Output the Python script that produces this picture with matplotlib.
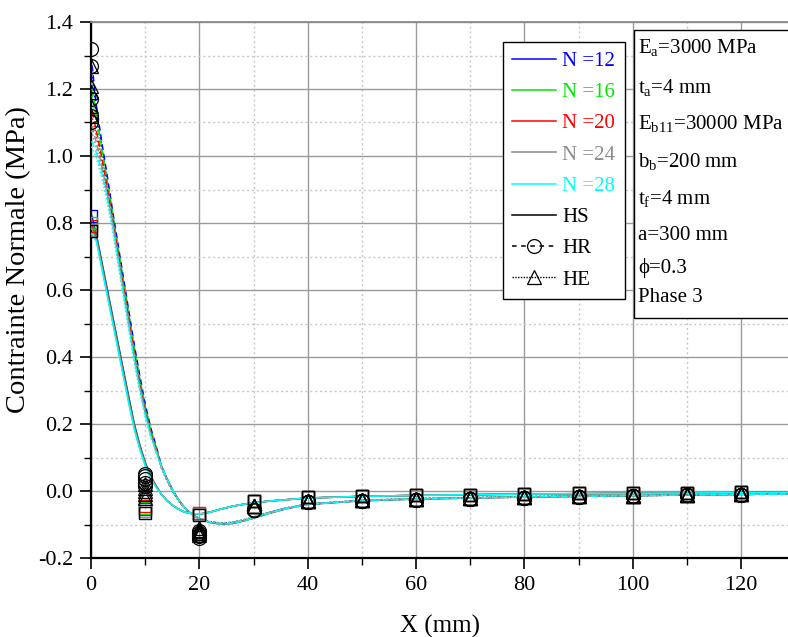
import numpy as np
import matplotlib.pyplot as plt
from matplotlib.lines import Line2D
from matplotlib.patches import Rectangle

plt.rcParams['font.family'] = ['Liberation Serif', 'DejaVu Serif']
plt.rcParams['mathtext.fontset'] = 'custom'
plt.rcParams['mathtext.rm'] = 'Liberation Serif'
plt.rcParams['mathtext.it'] = 'Liberation Serif:italic'

# number of terms in the series solution
N_values = [12, 16, 20, 24, 28]
colors = ['#0000FF', '#00E600', '#FF0000', '#8C8C8C', '#00FFFF']
square_edges = ['#0000FF', '#00E600', '#FF0000', '#8C8C8C', 'black']

# curves: steep part differs with N, the rest is shared
x_head = [0, 1, 2, 3, 4, 5, 6, 7, 8, 9, 10, 11, 12]
x_tail = [13, 14, 15, 16, 17, 18, 19, 20, 22, 24, 26, 28, 30, 33, 36, 40,
          50, 60, 70, 80, 90, 100, 110, 120, 130]

hs_head = {
    12: [0.830, 0.765, 0.684, 0.603, 0.522, 0.441, 0.360, 0.279, 0.200, 0.138, 0.086, 0.046, 0.016],
    16: [0.815, 0.759, 0.678, 0.597, 0.516, 0.435, 0.354, 0.273, 0.195, 0.134, 0.083, 0.044, 0.014],
    20: [0.800, 0.753, 0.672, 0.591, 0.510, 0.429, 0.348, 0.267, 0.190, 0.130, 0.080, 0.042, 0.013],
    24: [0.790, 0.749, 0.668, 0.587, 0.506, 0.425, 0.344, 0.263, 0.187, 0.128, 0.078, 0.041, 0.012],
    28: [0.770, 0.745, 0.664, 0.583, 0.502, 0.421, 0.340, 0.259, 0.184, 0.125, 0.076, 0.039, 0.011],
}
hs_tail = [-0.010, -0.028, -0.042, -0.053, -0.061, -0.066, -0.068, -0.069, -0.063, -0.054,
           -0.046, -0.040, -0.035, -0.030, -0.026, -0.021, -0.016, -0.013, -0.011, -0.009,
           -0.008, -0.007, -0.006, -0.005, -0.004]

hr_head = {
    12: [1.30, 1.15, 1.04, 0.940, 0.835, 0.735, 0.635, 0.535, 0.435, 0.345, 0.260, 0.190, 0.135],
    16: [1.22, 1.12, 1.02, 0.925, 0.825, 0.725, 0.625, 0.525, 0.425, 0.335, 0.252, 0.184, 0.131],
    20: [1.15, 1.075, 0.995, 0.905, 0.810, 0.710, 0.610, 0.510, 0.410, 0.320, 0.240, 0.175, 0.125],
    24: [1.10, 1.04, 0.970, 0.890, 0.800, 0.700, 0.600, 0.500, 0.400, 0.312, 0.234, 0.171, 0.122],
    28: [1.05, 1.01, 0.950, 0.875, 0.790, 0.690, 0.590, 0.490, 0.392, 0.305, 0.228, 0.167, 0.119],
}
hr_tail = [0.075, 0.038, 0.005, -0.022, -0.044, -0.061, -0.074, -0.083, -0.094, -0.099,
           -0.097, -0.090, -0.081, -0.066, -0.053, -0.040, -0.029, -0.024, -0.021, -0.018,
           -0.016, -0.014, -0.012, -0.010, -0.009]

he_head = {
    12: [1.27, 1.13, 1.025, 0.925, 0.825, 0.725, 0.625, 0.525, 0.425, 0.336, 0.252, 0.184, 0.130],
    16: [1.20, 1.10, 1.005, 0.910, 0.812, 0.713, 0.613, 0.513, 0.415, 0.327, 0.245, 0.178, 0.126],
    20: [1.13, 1.06, 0.980, 0.890, 0.797, 0.698, 0.598, 0.498, 0.400, 0.313, 0.234, 0.170, 0.120],
    24: [1.08, 1.025, 0.955, 0.875, 0.787, 0.688, 0.588, 0.488, 0.390, 0.305, 0.228, 0.166, 0.117],
    28: [1.03, 0.995, 0.935, 0.860, 0.777, 0.678, 0.578, 0.478, 0.382, 0.298, 0.222, 0.162, 0.114],
}
he_tail = [0.070, 0.033, 0.001, -0.025, -0.046, -0.062, -0.074, -0.082, -0.092, -0.096,
           -0.094, -0.087, -0.078, -0.064, -0.051, -0.039, -0.028, -0.023, -0.020, -0.017,
           -0.015, -0.013, -0.011, -0.010, -0.009]

# discrete points every 10 mm
x_pts = [0, 10, 20, 30, 40, 50, 60, 70, 80, 90, 100, 110, 120]
hs_pts_head = {12: [0.82, -0.055, -0.070], 16: [0.80, -0.050, -0.068], 20: [0.79, -0.045, -0.066],
               24: [0.78, -0.060, -0.070], 28: [0.775, -0.065, -0.072]}
hs_pts_tail = [-0.030, -0.019, -0.016, -0.013, -0.011, -0.009, -0.007, -0.006, -0.005, -0.004]
hr_pts_head = {12: [1.32, 0.052, -0.140], 16: [1.27, 0.045, -0.135], 20: [1.17, 0.035, -0.130],
               24: [1.12, 0.025, -0.125], 28: [1.10, 0.015, -0.120]}
hr_pts_tail = [-0.058, -0.033, -0.029, -0.026, -0.023, -0.020, -0.017, -0.015, -0.013, -0.011]
he_pts_head = {12: [1.27, 0.020, -0.110], 16: [1.21, 0.010, -0.115], 20: [1.19, 0.000, -0.120],
               24: [1.15, -0.010, -0.125], 28: [1.12, -0.020, -0.130]}
he_pts_tail = [-0.045, -0.030, -0.027, -0.024, -0.021, -0.018, -0.016, -0.014, -0.012, -0.010]

params = [r'E$_\mathregular{a}$=3000 MPa', r't$_\mathregular{a}$=4 mm',
          r'E$_\mathregular{b11}$=30000 MPa', r'b$_\mathregular{b}$=200 mm',
          r't$_\mathregular{f}$=4 mm', 'a=300 mm', '\u03d5=0.3', 'Phase 3']

W, H = 788, 637
fig = plt.figure(figsize=(W / 100, H / 100), dpi=100)
ax = fig.add_axes([91 / W, 1 - 558 / H, (W - 91) / W, 536 / H])

x_curve = x_head + x_tail
for i, (N, c) in enumerate(zip(N_values, colors)):
    ax.plot(x_curve, hs_head[N] + hs_tail, color=c, lw=1.1, ls='-', zorder=3)
    ax.plot(x_curve, hr_head[N] + hr_tail, color=c, lw=1.1, ls=(i * 1.3, (4, 2.5)), zorder=3)
    ax.plot(x_curve, he_head[N] + he_tail, color=c, lw=1.1, ls=(i * 0.5, (1, 1.5)), zorder=3)

for N, c in zip(N_values, square_edges):
    ax.plot(x_pts, hs_pts_head[N] + hs_pts_tail, ls='none', marker='s', ms=8.5,
            mfc='none', mec=c, mew=1.0, zorder=4)
for N in N_values:
    ax.plot(x_pts, hr_pts_head[N] + hr_pts_tail, ls='none', marker='o', ms=10,
            mfc='none', mec='black', mew=0.9, zorder=5)
    ax.plot(x_pts, he_pts_head[N] + he_pts_tail, ls='none', marker='^', ms=10,
            mfc='none', mec='black', mew=0.9, zorder=5)

ax.set_xlim(0, (W - 91) / 5.4167)
ax.set_ylim(-0.2, 1.4)
ax.set_xticks(np.arange(0, 121, 20))
ax.set_xticks(np.arange(10, 130, 20), minor=True)
ax.set_yticks(np.arange(-0.2, 1.41, 0.2))
ax.set_yticks(np.arange(-0.1, 1.4, 0.2), minor=True)
ax.set_yticklabels(['%.1f' % v for v in np.arange(-0.2, 1.41, 0.2)])

ax.grid(True, which='major', color='#9a9a9a', lw=1.0, ls='-', zorder=0)
ax.grid(True, which='minor', color='#c8c8c8', lw=1.0, ls=(0, (1.5, 2)), zorder=0)
ax.set_axisbelow(True)

ax.tick_params(which='major', direction='out', length=8, width=1.2, labelsize=16, pad=5)
ax.tick_params(which='minor', direction='out', length=5, width=1.0)
for s in ['left', 'bottom']:
    ax.spines[s].set_linewidth(1.6)
    ax.spines[s].set_color('black')
ax.spines['top'].set_color('#8a8a8a')
ax.spines['top'].set_linewidth(1.3)
ax.spines['right'].set_visible(False)

ax.set_xlabel('X (mm)', fontsize=18, labelpad=14)
ax.set_ylabel('Contrainte Normale (MPa)', fontsize=20.5)
ax.yaxis.set_label_coords(-0.086, 0.556)

handles = [Line2D([], [], color=c, lw=1.1) for c in colors]
handles += [Line2D([], [], color='black', lw=1.1),
            Line2D([], [], color='black', lw=1.1, ls=(0, (3, 3)), marker='o', ms=10,
                   mfc='none', mew=0.9),
            Line2D([], [], color='black', lw=1.0, ls=(0, (1, 1)), marker='^', ms=10,
                   mfc='none', mew=0.9)]
labels = ['N =%d' % N for N in N_values] + ['HS', 'HR', 'HE']
leg = ax.legend(handles, labels, loc='upper left', bbox_to_anchor=(503 / W, 1 - 42 / H),
                bbox_transform=fig.transFigure, fontsize=15, frameon=True, fancybox=False,
                edgecolor='black', framealpha=1, borderaxespad=0, handlelength=2.1,
                handletextpad=0.3, labelspacing=0.56, borderpad=0.45,
                labelcolor=colors + ['black'] * 3)
leg.get_frame().set_linewidth(1.0)
leg.set_zorder(10)

box = Rectangle((634 / W, 1 - 318 / H), (W - 634 + 5) / W, 288 / H,
                transform=fig.transFigure, fill=True, facecolor='white',
                edgecolor='black', lw=1.0, zorder=10)
fig.add_artist(box)
y_text = [48, 87, 124, 161, 199, 236, 268, 298]
for t, yp in zip(params, y_text):
    fig.text(638 / W, 1 - yp / H, t, fontsize=15, va='center', ha='left', zorder=11)

fig.savefig('out.png', dpi=100)
